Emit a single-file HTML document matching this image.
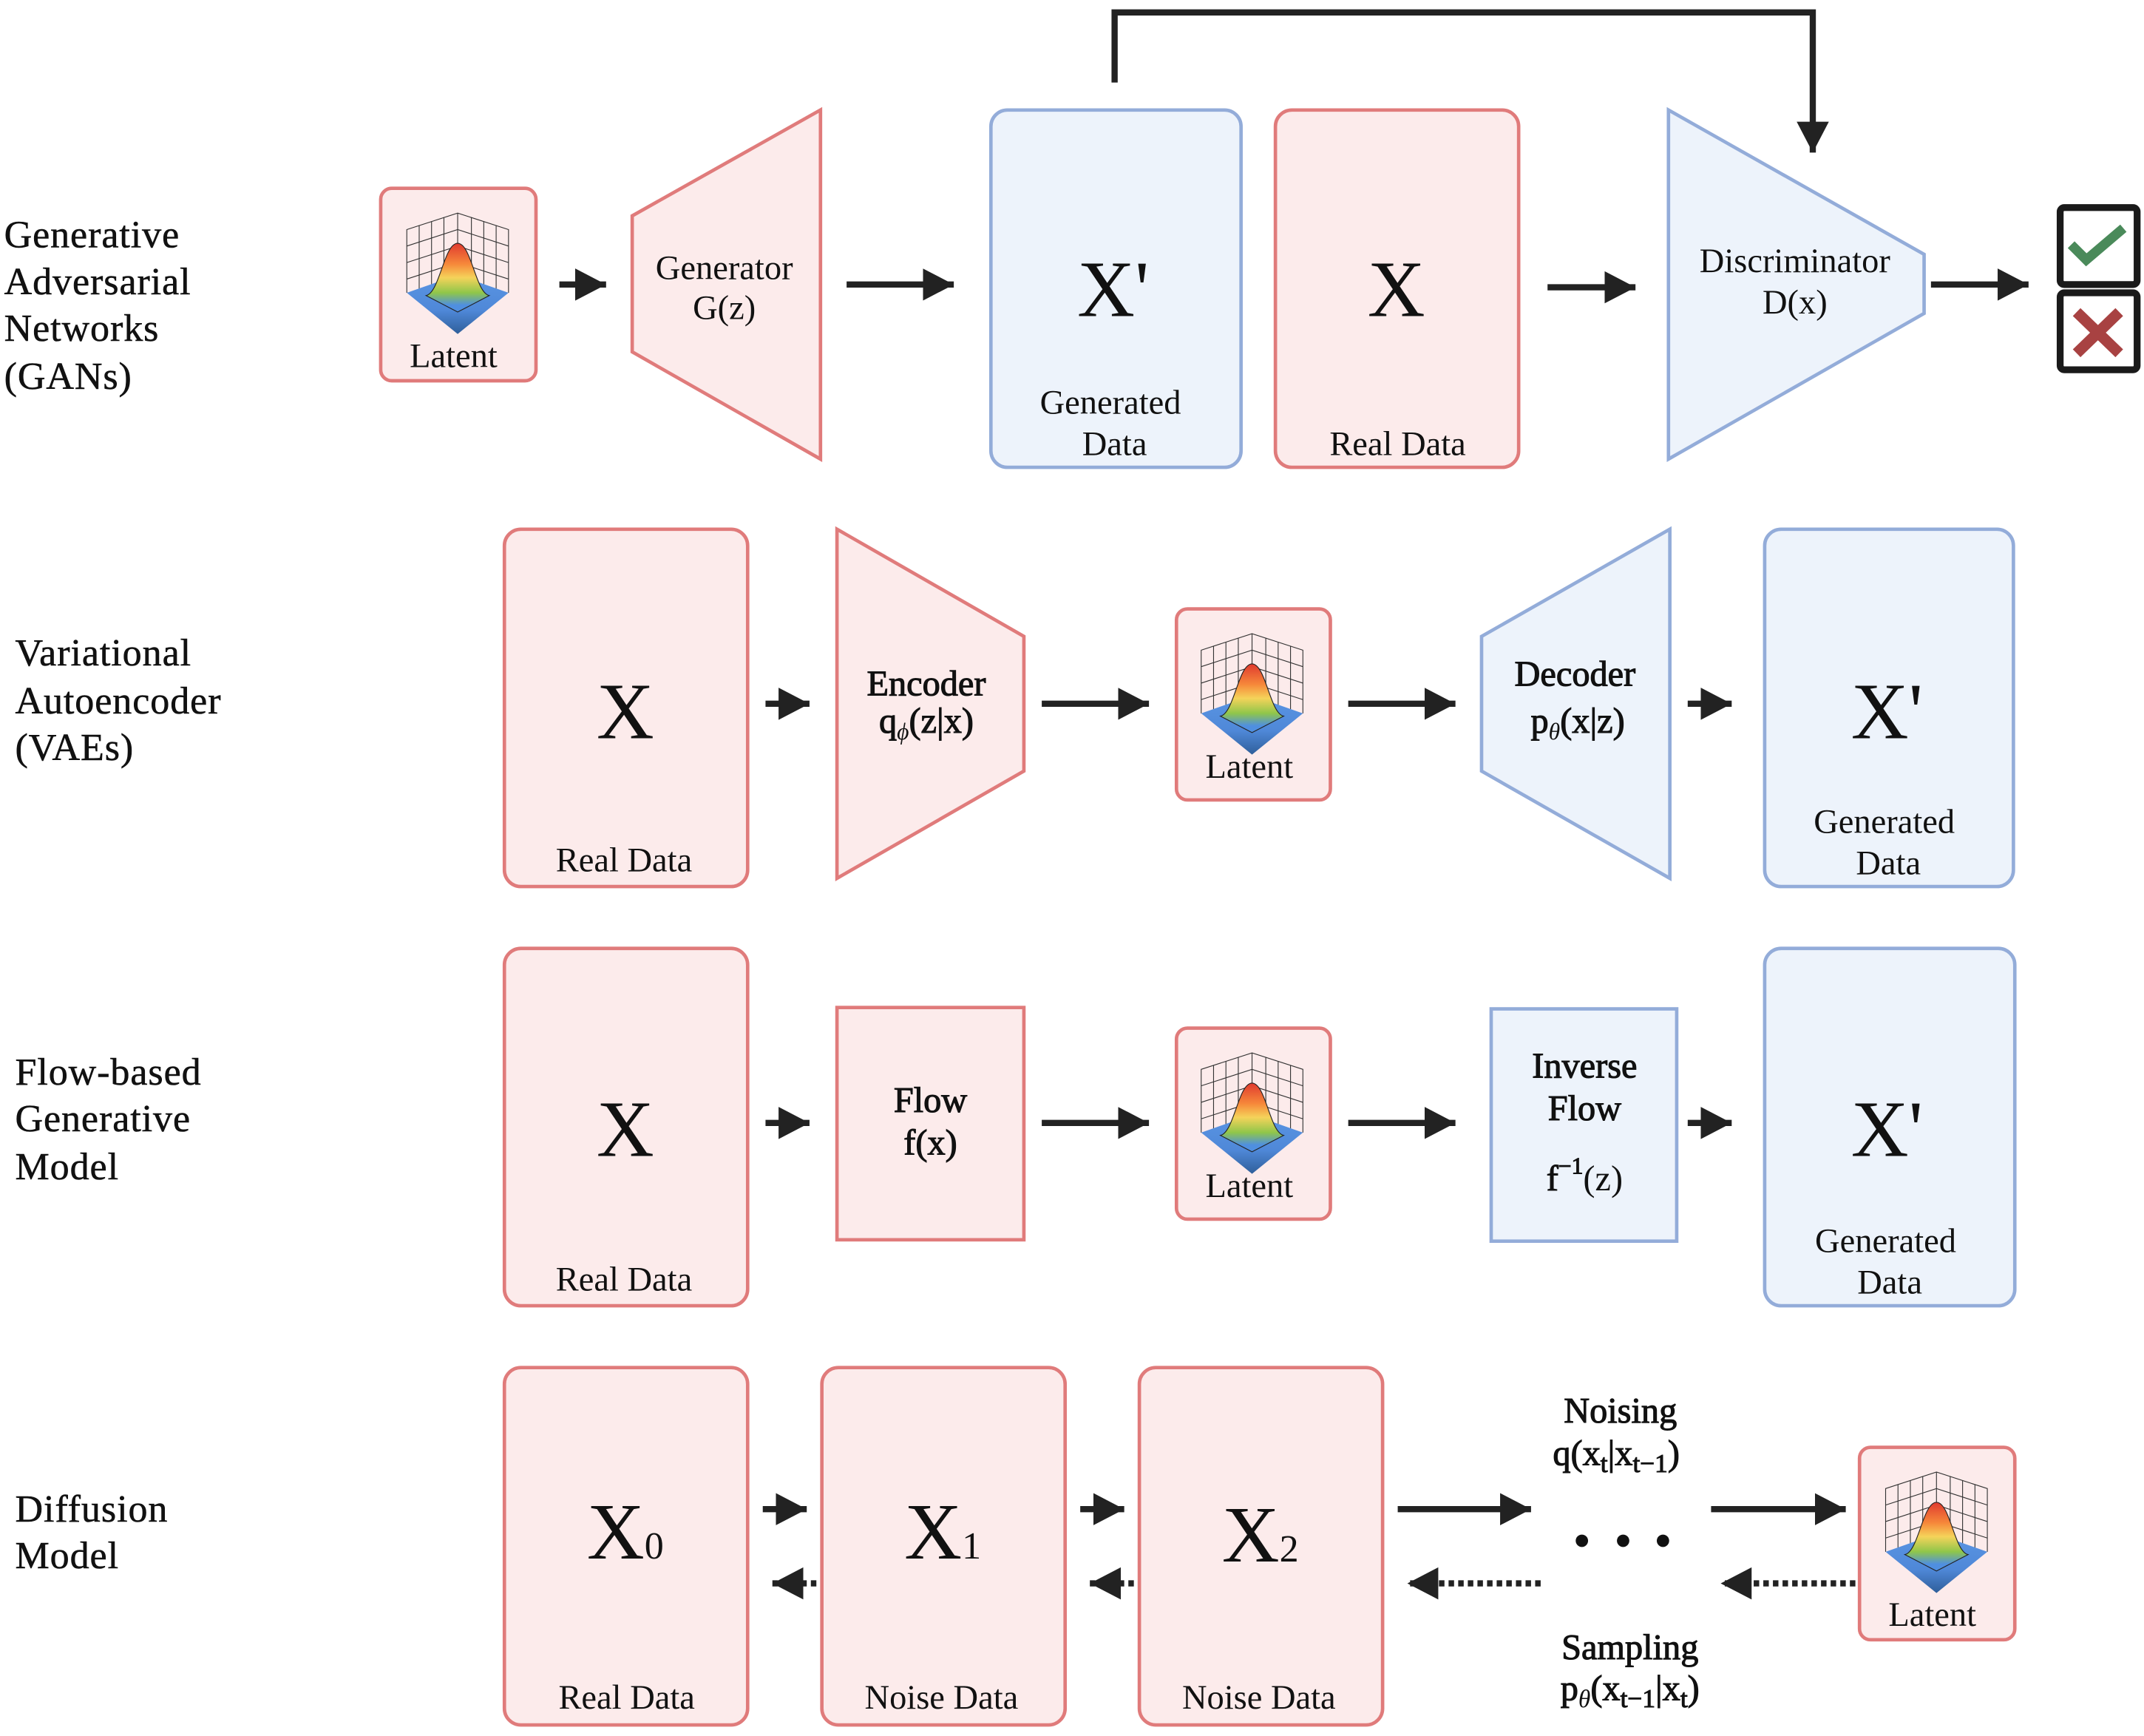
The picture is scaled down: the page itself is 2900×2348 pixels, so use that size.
<!DOCTYPE html>
<html><head><meta charset="utf-8"><style>
html,body{margin:0;padding:0;background:#fff;width:2900px;height:2348px;overflow:hidden}
svg{display:block}
text{font-family:"Liberation Serif",serif;fill:#111}
.lab{font-size:28px;letter-spacing:0.5px;stroke:#111;stroke-width:0.3}
.t{font-size:25px;text-anchor:middle}
.b{font-size:26px;text-anchor:middle;stroke:#111;stroke-width:0.6}
.X{font-size:58px;text-anchor:middle}
.pk{fill:#fcebeb;stroke:#e07b7b;stroke-width:2.5}
.bl{fill:#edf3fb;stroke:#93acd9;stroke-width:2.5}
.ar{stroke:#222;stroke-width:4.5;fill:none}
.dt{stroke:#222;stroke-width:4.5;fill:none;stroke-dasharray:4 3}
</style></head><body>
<svg width="2900" height="2348" viewBox="0 0 1560 1263" xmlns="http://www.w3.org/2000/svg">
<defs>
<marker id="ah" markerWidth="6" markerHeight="6" refX="5" refY="3" orient="auto" markerUnits="strokeWidth"><path d="M0,0.4 L5,3 L0,5.6Z" fill="#222"/></marker>
<linearGradient id="bell" x1="0" y1="0" x2="0" y2="1">
<stop offset="0" stop-color="#e03a2f"/><stop offset="0.3" stop-color="#f6883a"/><stop offset="0.5" stop-color="#f5d35a"/><stop offset="0.72" stop-color="#8fc64a"/><stop offset="0.9" stop-color="#4f8fe0"/><stop offset="1" stop-color="#4f8fe0"/></linearGradient>
<linearGradient id="base" x1="0" y1="0" x2="0" y2="1"><stop offset="0" stop-color="#5a95e3"/><stop offset="0.6" stop-color="#4f88d8"/><stop offset="1" stop-color="#2f5f9a"/></linearGradient>
<g id="icon">
<g stroke="#333" stroke-width="0.6" fill="none">
<path d="M0,58 L0,12 L37,0 L74,12 L74,58"/>
<path d="M37,0 L37,45"/>
<path d="M0,24 L37,12 L74,24 M0,36 L37,24 L74,36 M0,48 L37,36 L74,48"/>
<path d="M9,55 L9,9 M18,52 L18,6 M27,48 L27,3 M47,48 L47,3 M56,52 L56,6 M65,55 L65,9"/>
</g>
<path d="M0,58 L37,45 L74,58 L37,88Z" fill="url(#base)"/>
<path d="M14,60 C24,58 27,22 37,22 C47,22 50,58 60,60 L37,72Z" fill="url(#bell)" stroke="#222" stroke-width="0.6"/>
</g>
</defs>

<text class="lab" x="3" y="180">Generative</text>
<text class="lab" x="3" y="214">Adversarial</text>
<text class="lab" x="3" y="248">Networks</text>
<text class="lab" x="3" y="283">(GANs)</text>
<text class="lab" x="11" y="484">Variational</text>
<text class="lab" x="11" y="519">Autoencoder</text>
<text class="lab" x="11" y="553">(VAEs)</text>
<text class="lab" x="11" y="789">Flow-based</text>
<text class="lab" x="11" y="823">Generative</text>
<text class="lab" x="11" y="858">Model</text>
<text class="lab" x="11" y="1107">Diffusion</text>
<text class="lab" x="11" y="1141">Model</text>

<rect class="pk" x="277" y="137" width="113" height="140" rx="8"/>
<use href="#icon" x="296" y="155"/>
<text class="t" x="330" y="267">Latent</text>
<path class="ar" d="M407,207 L441,207" marker-end="url(#ah)"/>
<path class="pk" d="M460,157 L597,80 L597,334 L460,256Z"/>
<text class="t" x="527" y="203">Generator</text>
<text class="t" x="527" y="232">G(z)</text>
<path class="ar" d="M616,207 L694,207" marker-end="url(#ah)"/>
<rect class="bl" x="721" y="80" width="182" height="260" rx="12"/>
<text class="X" x="810" y="230">X'</text>
<text class="t" x="808" y="301">Generated</text>
<text class="t" x="811" y="331">Data</text>
<rect class="pk" x="928" y="80" width="177" height="260" rx="12"/>
<text class="X" x="1016" y="230">X</text>
<text class="t" x="1017" y="331">Real Data</text>
<path class="ar" d="M1126,209 L1190,209" marker-end="url(#ah)"/>
<path class="bl" d="M1214,80 L1400,185 L1400,228 L1214,334Z"/>
<text class="t" x="1306" y="198">Discriminator</text>
<text class="t" x="1306" y="228">D(x)</text>
<path class="ar" d="M1405,207 L1476,207" marker-end="url(#ah)"/>
<path class="ar" d="M811,60 L811,9 L1319,9 L1319,111" marker-end="url(#ah)"/>
<rect x="1499" y="151" width="56" height="56" rx="3" fill="#fff" stroke="#1a1a1a" stroke-width="5"/>
<path d="M1507,178 L1518,189 L1545,166" stroke="#4a8a5a" stroke-width="7" fill="none"/>
<rect x="1499" y="213" width="56" height="56" rx="3" fill="#fff" stroke="#1a1a1a" stroke-width="5"/>
<path d="M1511,227 L1542,257 M1542,227 L1511,257" stroke="#a84242" stroke-width="8"/>

<rect class="pk" x="367" y="385" width="177" height="260" rx="12"/>
<text class="X" x="455" y="537">X</text>
<text class="t" x="454" y="634">Real Data</text>
<path class="ar" d="M557,512 L589,512" marker-end="url(#ah)"/>
<path class="pk" d="M609,385 L745,463 L745,561 L609,639Z"/>
<text class="b" x="674" y="506">Encoder</text>
<text class="b" x="674" y="533">q<tspan font-style="italic" stroke-width="0" font-size="17" dy="5">ϕ</tspan><tspan dy="-5">(z|x)</tspan></text>
<path class="ar" d="M758,512 L836,512" marker-end="url(#ah)"/>
<rect class="pk" x="856" y="443" width="112" height="139" rx="8"/>
<use href="#icon" x="874" y="461"/>
<text class="t" x="909" y="566">Latent</text>
<path class="ar" d="M981,512 L1059,512" marker-end="url(#ah)"/>
<path class="bl" d="M1078,463 L1215,385 L1215,639 L1078,561Z"/>
<text class="b" x="1146" y="499">Decoder</text>
<text class="b" x="1148" y="533">p<tspan font-style="italic" stroke-width="0" font-size="17" dy="5">θ</tspan><tspan dy="-5">(x|z)</tspan></text>
<path class="ar" d="M1228,512 L1260,512" marker-end="url(#ah)"/>
<rect class="bl" x="1284" y="385" width="181" height="260" rx="12"/>
<text class="X" x="1373" y="537">X'</text>
<text class="t" x="1371" y="606">Generated</text>
<text class="t" x="1374" y="636">Data</text>

<rect class="pk" x="367" y="690" width="177" height="260" rx="12"/>
<text class="X" x="455" y="841">X</text>
<text class="t" x="454" y="939">Real Data</text>
<path class="ar" d="M557,817 L589,817" marker-end="url(#ah)"/>
<rect class="pk" x="609" y="733" width="136" height="169"/>
<text class="b" x="677" y="809">Flow</text>
<text class="b" x="677" y="840">f(x)</text>
<path class="ar" d="M758,817 L836,817" marker-end="url(#ah)"/>
<rect class="pk" x="856" y="748" width="112" height="139" rx="8"/>
<use href="#icon" x="874" y="766"/>
<text class="t" x="909" y="871">Latent</text>
<path class="ar" d="M981,817 L1059,817" marker-end="url(#ah)"/>
<rect class="bl" x="1085" y="734" width="135" height="169"/>
<text class="b" x="1153" y="784">Inverse</text>
<text class="b" x="1153" y="815">Flow</text>
<text class="b" x="1153" y="866">f<tspan font-size="17" dy="-12">−1</tspan><tspan dy="12" stroke-width="0">(z)</tspan></text>
<path class="ar" d="M1228,817 L1260,817" marker-end="url(#ah)"/>
<rect class="bl" x="1284" y="690" width="182" height="260" rx="12"/>
<text class="X" x="1373" y="841">X'</text>
<text class="t" x="1372" y="911">Generated</text>
<text class="t" x="1375" y="941">Data</text>

<rect class="pk" x="367" y="995" width="177" height="260" rx="12"/>
<text class="X" x="455" y="1134">X<tspan font-size="28" dy="0">0</tspan></text>
<text class="t" x="456" y="1243">Real Data</text>
<rect class="pk" x="598" y="995" width="177" height="260" rx="12"/>
<text class="X" x="686" y="1134">X<tspan font-size="28">1</tspan></text>
<text class="t" x="685" y="1243">Noise Data</text>
<rect class="pk" x="829" y="995" width="177" height="260" rx="12"/>
<text class="X" x="917" y="1136">X<tspan font-size="28">2</tspan></text>
<text class="t" x="916" y="1243">Noise Data</text>
<path class="ar" d="M555,1098 L587,1098" marker-end="url(#ah)"/>
<path class="ar" d="M786,1098 L818,1098" marker-end="url(#ah)"/>
<path class="ar" d="M1017,1098 L1114,1098" marker-end="url(#ah)"/>
<path class="ar" d="M1245,1098 L1343,1098" marker-end="url(#ah)"/>
<path class="dt" d="M594,1152 L562,1152" marker-end="url(#ah)"/>
<path class="dt" d="M825,1152 L793,1152" marker-end="url(#ah)"/>
<path class="dt" d="M1121,1152 L1024,1152" marker-end="url(#ah)"/>
<path class="dt" d="M1350,1152 L1252,1152" marker-end="url(#ah)"/>
<circle cx="1151" cy="1121" r="4.5" fill="#111"/>
<circle cx="1181" cy="1121" r="4.5" fill="#111"/>
<circle cx="1210" cy="1121" r="4.5" fill="#111"/>
<rect class="pk" x="1353" y="1053" width="113" height="140" rx="8"/>
<use href="#icon" x="1372" y="1071"/>
<text class="t" x="1406" y="1183">Latent</text>
<text class="b" x="1179" y="1035">Noising</text>
<text class="b" x="1176" y="1066">q(x<tspan font-size="19" dy="5">t</tspan><tspan dy="-5">|x</tspan><tspan font-size="19" dy="5">t−1</tspan><tspan dy="-5">)</tspan></text>
<text class="b" x="1186" y="1207">Sampling</text>
<text class="b" x="1186" y="1237">p<tspan font-style="italic" stroke-width="0" font-size="18" dy="5">θ</tspan><tspan dy="-5">(x</tspan><tspan font-size="19" dy="5">t−1</tspan><tspan dy="-5">|x</tspan><tspan font-size="19" dy="5">t</tspan><tspan dy="-5">)</tspan></text>
</svg>
</body></html>
